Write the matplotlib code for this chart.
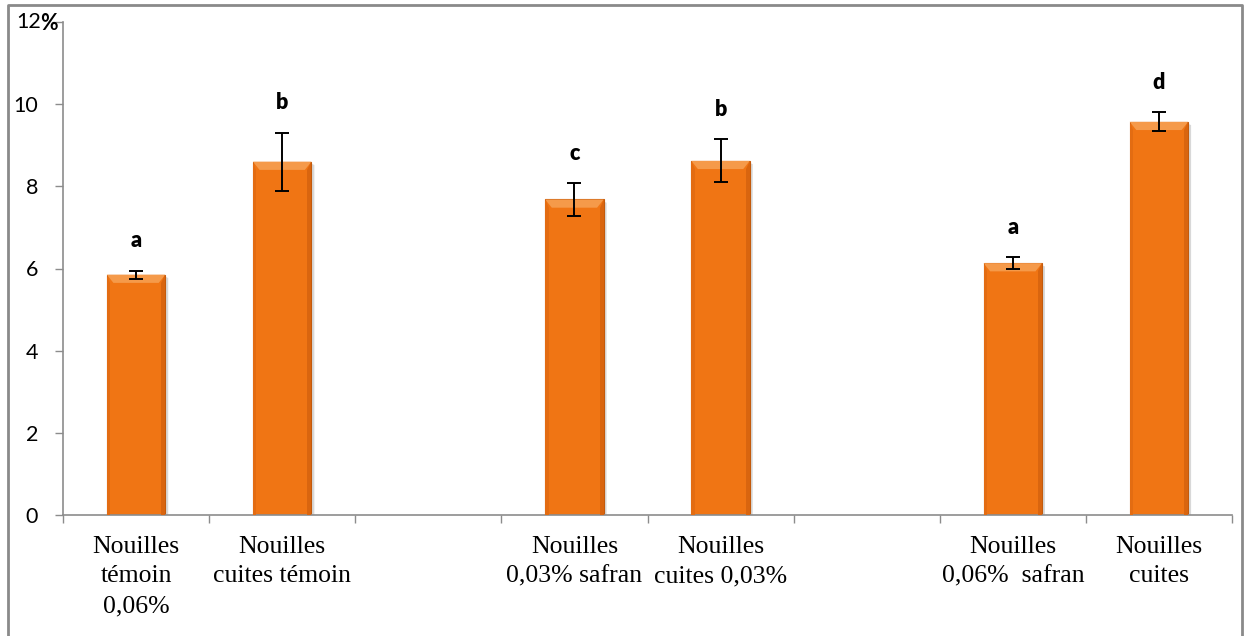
import matplotlib.pyplot as plt
import numpy as np
from matplotlib.patches import Polygon
from matplotlib.lines import Line2D

# groups: 8 slots, two left empty as spacers
labels = ["Nouilles\ntémoin\n0,06%", "Nouilles\ncuites témoin", "",
          "Nouilles\n0,03% safran", "Nouilles\ncuites 0,03%", "",
          "Nouilles\n0,06%  safran", "Nouilles\ncuites"]
slots = [0, 1, 3, 4, 6, 7]
values = [5.85, 8.6, 7.68, 8.62, 6.13, 9.57]
errors = [0.1, 0.71, 0.4, 0.52, 0.15, 0.23]
letters = ["a", "b", "c", "b", "a", "d"]

orange = "#F07514"
width = 0.4

fig = plt.figure(figsize=(12.44, 6.36), dpi=100)
ax = fig.add_axes([63/1244, 121/636, (1232-63)/1244, (515-22)/636])

bars = ax.bar(slots, values, width=width, color=orange, edgecolor="#C35A0C",
              linewidth=0.8, zorder=2)

# bevel highlight on top and darker sides of each bar
bx, by = 0.045, 0.2
for x, v in zip(slots, values):
    l, r = x - width/2, x + width/2
    ax.add_patch(Polygon([(l, v), (r, v), (r - bx, v - by), (l + bx, v - by)],
                         closed=True, facecolor="#F59A4A", edgecolor="none", zorder=3))
    ax.add_patch(Polygon([(r, v), (r, 0), (r - bx*0.6, 0), (r - bx*0.6, v - by)],
                         closed=True, facecolor="#D9650F", edgecolor="none", zorder=3))
    ax.add_patch(Polygon([(l, v), (l, 0), (l + bx*0.5, 0), (l + bx*0.5, v - by)],
                         closed=True, facecolor="#E36C12", edgecolor="none", zorder=3))
    # soft shadow to the right
    ax.add_patch(Polygon([(r, v - 0.05), (r + 0.02, v - 0.08), (r + 0.02, 0), (r, 0)],
                         closed=True, facecolor="#d8d8d8", edgecolor="none", zorder=1))

ax.errorbar(slots, values, yerr=errors, fmt="none", ecolor="black",
            elinewidth=1.4, capsize=5, capthick=1.4, zorder=4)

for x, v, e, t in zip(slots, values, errors, letters):
    ax.text(x, v + e + 0.72, t, ha="center", va="center", fontsize=15.5,
            fontweight="heavy", family="Lato")

ax.set_xlim(-0.5, 7.5)
ax.set_ylim(0, 12)

ax.set_xticks(range(8))
ax.set_xticklabels(labels, family="Liberation Serif", fontsize=18.5, linespacing=1.45)
ax.set_xticks(np.arange(-0.5, 8, 1), minor=True)
ax.tick_params(axis="x", which="major", length=0, pad=15)
ax.tick_params(axis="x", which="minor", length=6, color="#8c8c8c", width=1)

ax.set_yticks([0, 2, 4, 6, 8, 10, 12])
ax.set_yticklabels(["0", "2", "4", "6", "8", "10", ""], family="Lato", fontsize=15.5)
ax.tick_params(axis="y", length=6, color="#8c8c8c", width=1, pad=12)
ax.annotate("12", xy=(0, 12), xycoords=("axes fraction", "data"), xytext=(-16, 0),
            textcoords="offset points", ha="right", va="center", fontsize=15.5, family="Lato")
ax.annotate("%", xy=(0, 12), xycoords=("axes fraction", "data"), xytext=(-4, -1),
            textcoords="offset points", ha="right", va="center", fontsize=15.5,
            fontweight="bold", family="Lato")

for s in ["top", "right"]:
    ax.spines[s].set_visible(False)
for s in ["left", "bottom"]:
    ax.spines[s].set_color("#8c8c8c")
    ax.spines[s].set_linewidth(1.2)

# outer frame around the chart
fx = [8/1244, 8/1244, 1242/1244, 1242/1244]
fy = [0, 1 - 5/636, 1 - 5/636, 0]
fig.add_artist(Line2D(fx, fy, color="#8a8a8a", linewidth=2, transform=fig.transFigure))

plt.savefig("out.png", dpi=100)
